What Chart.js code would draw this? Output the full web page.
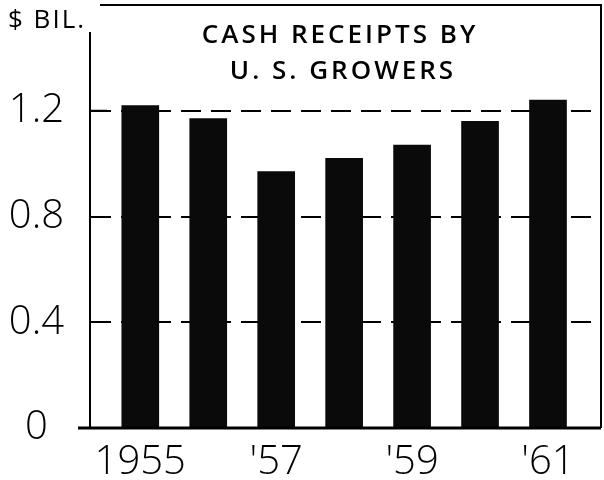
<!DOCTYPE html>
<html>
<head>
<meta charset="utf-8">
<script src="https://cdn.jsdelivr.net/npm/chart.js@4"></script>
<style>
html,body{margin:0;padding:0;background:#fff;}
#wrap{width:604px;height:480px;position:relative;}
</style>
</head>
<body>
<div id="wrap"><canvas id="c" width="604" height="480"></canvas></div>
<script>
const years = ['1955', '1956', '1957', '1958', '1959', '1960', '1961'];
const receipts = [1.22, 1.17, 0.97, 1.02, 1.07, 1.16, 1.24];
const xTickPositions = [0, 2, 4, 6];
const xTickLabels = ['1955', "'57", "'59", "'61"];
const yTickValues = [0, 0.4, 0.8, 1.2];
const yTickLabels = ['0', '0.4', '0.8', '1.2'];
const titleLines = ['CASH RECEIPTS BY', 'U. S. GROWERS'];
const unitLabel = '$ BIL.';

const FONT = '"Open Sans", "DejaVu Sans", sans-serif';

const framePlugin = {
  id: 'frame',
  afterDraw(chart) {
    const ctx = chart.ctx;
    const a = chart.chartArea;
    ctx.save();
    ctx.strokeStyle = '#000';
    ctx.lineWidth = 2;
    ctx.beginPath();
    ctx.moveTo(a.left, a.top);
    ctx.lineTo(a.right, a.top);
    ctx.lineTo(a.right, a.bottom);
    ctx.stroke();
    ctx.lineWidth = 3;
    ctx.beginPath();
    ctx.moveTo(a.left - 12, a.bottom);
    ctx.lineTo(a.right, a.bottom);
    ctx.stroke();
    const y12 = chart.scales.y.getPixelForValue(1.2);
    ctx.lineWidth = 2;
    ctx.beginPath();
    ctx.moveTo(a.left, y12);
    ctx.lineTo(a.left + 17, y12);
    ctx.stroke();
    // unit label
    ctx.fillStyle = '#fff';
    ctx.fillRect(4, 0, 96, 32);
    ctx.fillStyle = '#000';
    ctx.font = '400 26px ' + FONT;
    ctx.textAlign = 'left';
    ctx.textBaseline = 'alphabetic';
    ctx.letterSpacing = '2px';
    ctx.fillText(unitLabel, 8, 28);
    // title
    ctx.font = '600 26px ' + FONT;
    ctx.textAlign = 'center';
    ctx.textBaseline = 'middle';
    ctx.letterSpacing = '3px';
    ctx.fillText(titleLines[0], 340, 36);
    ctx.fillText(titleLines[1], 343, 72);
    ctx.restore();
  }
};

new Chart(document.getElementById('c'), {
  type: 'bar',
  data: {
    datasets: [{
      data: receipts.map((v, i) => ({x: i, y: v})),
      backgroundColor: '#0a0a0a',
      borderWidth: 0,
      barThickness: 37
    }]
  },
  plugins: [framePlugin],
  options: {
    responsive: false,
    animation: false,
    layout: {padding: {top: 5, right: 3, left: 0, bottom: 0}},
    plugins: {legend: {display: false}, tooltip: {enabled: false}, title: {display: false}},
    scales: {
      x: {
        type: 'linear',
        offset: false,
        min: -0.74,
        max: 6.78,
        afterFit(s) { s.height = 52; s.paddingLeft = 0; s.paddingRight = 0; },
        afterBuildTicks(s) { s.ticks = xTickPositions.map(v => ({value: v})); },
        grid: {display: false, offset: false},
        border: {display: false},
        ticks: {
          color: '#000',
          font: {family: FONT, size: 40, weight: '300'},
          padding: 3,
          maxRotation: 0,
          autoSkip: false,
          callback(v) { const k = xTickPositions.indexOf(v); return k >= 0 ? xTickLabels[k] : ''; }
        }
      },
      y: {
        min: 0,
        max: 1.6,
        afterFit(s) { s.width = 90; s.paddingTop = 0; s.paddingBottom = 0; },
        afterBuildTicks(s) { s.ticks = yTickValues.concat([1.6]).map(v => ({value: v})); },
        border: {display: true, color: '#000', width: 2, dash: [20, 10]},
        grid: {
          drawTicks: false,
          lineWidth: 2,
          color(ctx) { const v = ctx.tick && ctx.tick.value; return (v > 0.01 && v < 1.5) ? '#000' : 'rgba(0,0,0,0)'; }
        },
        ticks: {
          color: '#000',
          font: {family: FONT, size: 40, weight: '300'},
          padding: 26,
          crossAlign: 'center',
          autoSkip: false,
          callback(v) { const k = yTickValues.findIndex(t => Math.abs(t - v) < 1e-6); return k >= 0 ? yTickLabels[k] : ''; }
        }
      }
    }
  }
});
</script>
</body>
</html>
